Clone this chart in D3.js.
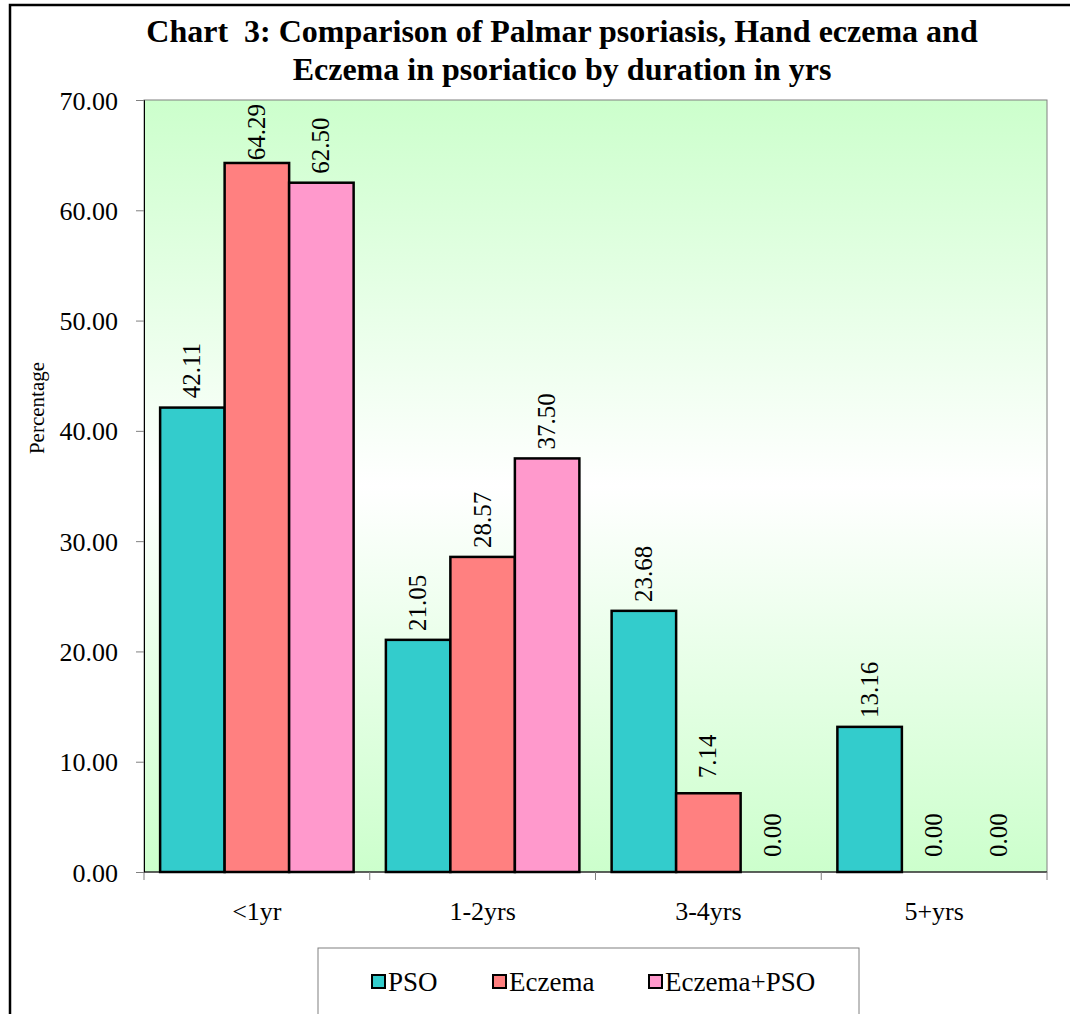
<!DOCTYPE html>
<html>
<head>
<meta charset="utf-8">
<script src="https://cdn.jsdelivr.net/npm/d3@7"></script>
<style>
  html, body { margin: 0; padding: 0; background: #fff; }
  svg { display: block; }
  svg text { font-family: "Liberation Serif", "Times New Roman", serif; fill: #000; }
</style>
</head>
<body>
<svg id="chart" width="1070" height="1014"></svg>
<script>
// Duration groups and percentage of patients per group
const categories = ["<1yr", "1-2yrs", "3-4yrs", "5+yrs"];
const seriesNames = ["PSO", "Eczema", "Eczema+PSO"];
const psoValues = [42.11, 21.05, 23.68, 13.16];
const eczemaValues = [64.29, 28.57, 7.14, 0.00];
const eczemaPsoValues = [62.50, 37.50, 0.00, 0.00];
const yTicks = [0, 10, 20, 30, 40, 50, 60, 70];
const titleLines = ["Chart  3: Comparison of Palmar psoriasis, Hand eczema and",
                    "Eczema in psoriatico by duration in yrs"];

const seriesValues = [psoValues, eczemaValues, eczemaPsoValues];
const colors = ["#33CCCC", "#FF8080", "#FF99CC"];
const serif = "Liberation Serif, Times New Roman, serif";

const svg = d3.select("#chart");
const plot = { left: 144, right: 1047, top: 100, bottom: 872 };

// Outer chart frame (right and bottom edges fall outside the view)
svg.append("rect")
  .attr("x", 10).attr("y", 5)
  .attr("width", 1100).attr("height", 1050)
  .attr("fill", "#fff").attr("stroke", "#000").attr("stroke-width", 2.5);

// Plot-area fill: pale green at top and bottom, white in the middle
const defs = svg.append("defs");
const grad = defs.append("linearGradient")
  .attr("id", "plotFill").attr("x1", 0).attr("y1", 0).attr("x2", 0).attr("y2", 1);
grad.append("stop").attr("offset", "0%").attr("stop-color", "#CCFFCC");
grad.append("stop").attr("offset", "50%").attr("stop-color", "#FFFFFF");
grad.append("stop").attr("offset", "100%").attr("stop-color", "#CCFFCC");

svg.append("rect")
  .attr("x", plot.left).attr("y", plot.top)
  .attr("width", plot.right - plot.left).attr("height", plot.bottom - plot.top)
  .attr("fill", "url(#plotFill)").attr("stroke", "#808080").attr("stroke-width", 1);

// Scales
const x0 = d3.scaleBand().domain(categories).range([plot.left, plot.right]).padding(0);
const x1 = d3.scaleBand().domain(seriesNames).range([0, x0.bandwidth()])
  .paddingInner(0).paddingOuter(0.25);
const y = d3.scaleLinear().domain([0, 70]).range([plot.bottom, plot.top]);

// Title
const title = svg.append("text")
  .attr("text-anchor", "middle")
  .attr("font-family", serif)
  .attr("font-size", 32).attr("font-weight", "bold")
  .style("white-space", "pre");
titleLines.forEach((t, i) => {
  title.append("tspan").attr("x", 562).attr("y", 42 + i * 38).text(t);
});

// Y axis
const yAxis = d3.axisLeft(y).tickValues(yTicks).tickFormat(d3.format(".2f"))
  .tickSize(8).tickPadding(18);
const yg = svg.append("g").attr("transform", `translate(${plot.left},0)`).call(yAxis);
yg.select(".domain").attr("stroke", "#000");
yg.selectAll(".tick line").attr("stroke", "#808080");
yg.selectAll(".tick text").attr("font-size", 26)
  .attr("font-family", serif).attr("dy", "0.35em");

// Y axis title
svg.append("text")
  .attr("transform", `translate(44,${(plot.top + plot.bottom) / 2 - 78}) rotate(-90)`)
  .attr("text-anchor", "middle").attr("font-size", 21).attr("font-family", serif)
  .text("Percentage");

// Bars
const groups = svg.append("g").selectAll("g")
  .data(categories)
  .join("g")
  .attr("transform", d => `translate(${x0(d)},0)`);

const rows = (c, ci) => seriesNames.map((s, si) => ({ s, si, v: seriesValues[si][ci] }));

groups.selectAll("rect")
  .data(rows)
  .join("rect")
  .filter(d => d.v > 0)
  .attr("x", d => x1(d.s))
  .attr("y", d => y(d.v))
  .attr("width", x1.bandwidth())
  .attr("height", d => y(0) - y(d.v))
  .attr("fill", d => colors[d.si])
  .attr("stroke", "#000").attr("stroke-width", 2.5);

// Value labels, rotated, above each bar
groups.selectAll("text.val")
  .data(rows)
  .join("text")
  .attr("class", "val")
  .attr("font-size", 25).attr("font-family", serif)
  .attr("text-anchor", "middle")
  .text(d => d.v.toFixed(2))
  .each(function (d) {
    const w = this.getComputedTextLength();
    const cx = x1(d.s) + x1.bandwidth() / 2 + 8;
    const cy = Math.max(y(d.v) - 37, plot.top + 4 + w / 2);
    d3.select(this).attr("transform", `translate(${cx},${cy}) rotate(-90)`);
  });

// X axis line, boundary ticks and category labels
svg.append("line")
  .attr("x1", plot.left).attr("x2", plot.right)
  .attr("y1", plot.bottom).attr("y2", plot.bottom)
  .attr("stroke", "#000").attr("stroke-width", 1);

const boundaries = categories.map(c => x0(c)).concat([plot.right]);
svg.append("g").selectAll("line")
  .data(boundaries)
  .join("line")
  .attr("x1", d => d).attr("x2", d => d)
  .attr("y1", plot.bottom).attr("y2", plot.bottom + 8)
  .attr("stroke", "#808080").attr("stroke-width", 1);

svg.append("g").selectAll("text")
  .data(categories)
  .join("text")
  .attr("x", d => x0(d) + x0.bandwidth() / 2)
  .attr("y", 920)
  .attr("text-anchor", "middle").attr("font-size", 26).attr("font-family", serif)
  .text(d => d);

// Legend
const legend = svg.append("g");
legend.append("rect")
  .attr("x", 318).attr("y", 948).attr("width", 541).attr("height", 100)
  .attr("fill", "#fff").attr("stroke", "#808080").attr("stroke-width", 1);

const legendX = [372, 493, 649];
const items = legend.selectAll("g.item")
  .data(seriesNames)
  .join("g")
  .attr("class", "item")
  .attr("transform", (d, i) => `translate(${legendX[i]},975)`);
items.append("rect")
  .attr("width", 13).attr("height", 13)
  .attr("fill", (d, i) => colors[i]).attr("stroke", "#000").attr("stroke-width", 2);
items.append("text")
  .attr("x", 16).attr("y", 16)
  .attr("font-size", 27).attr("font-family", serif)
  .text(d => d);
</script>
</body>
</html>
